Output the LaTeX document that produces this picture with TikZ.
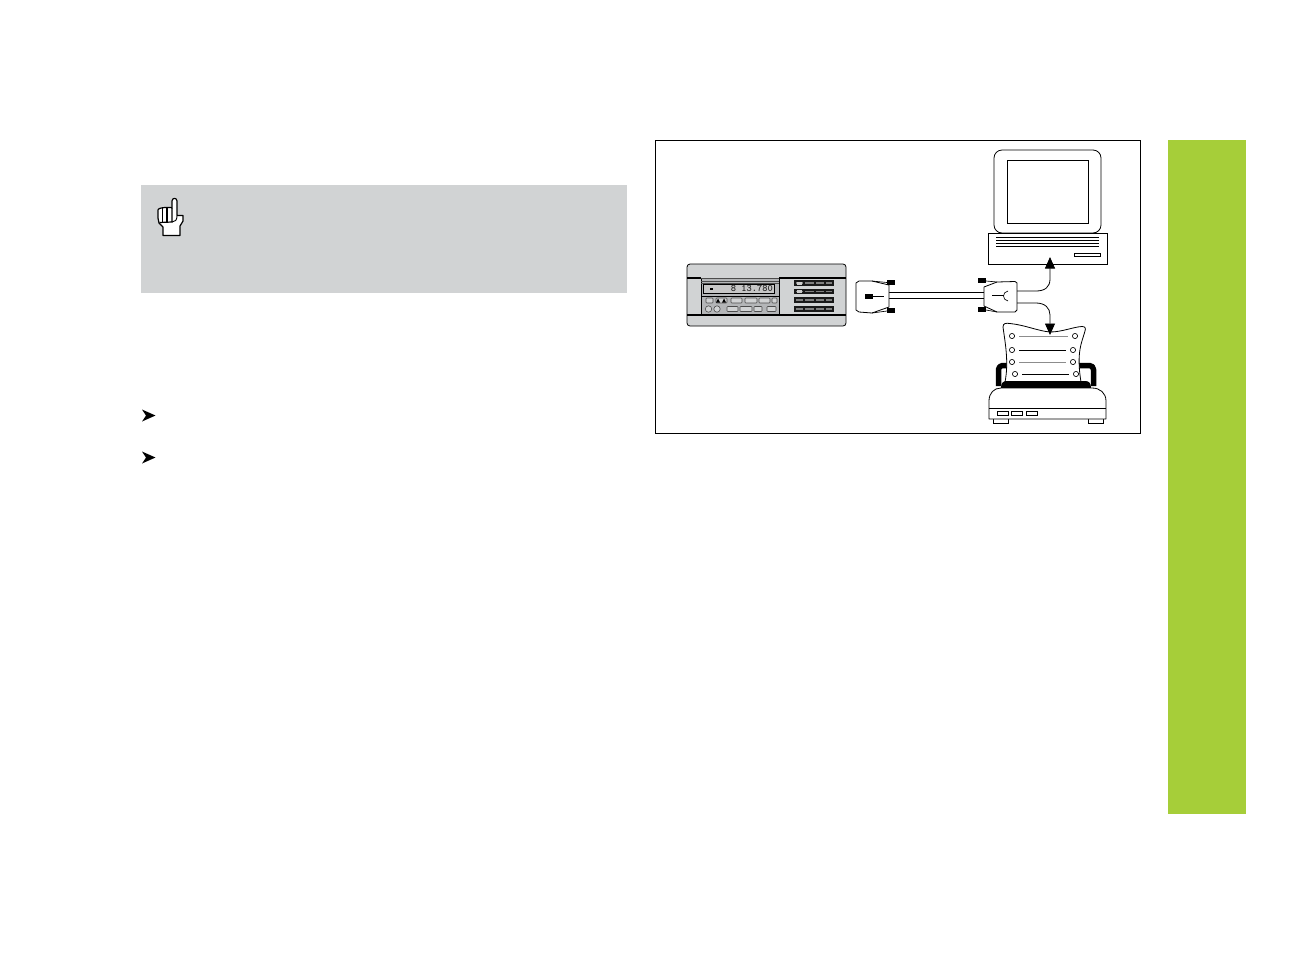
\documentclass[tikz,border=0pt]{standalone}
\usepackage{xcolor}
\usepackage{tikz}
\usetikzlibrary{arrows.meta}
\definecolor{notegray}{HTML}{D1D3D4}
\definecolor{tabgreen}{HTML}{A6CE39}
\definecolor{padtone}{HTML}{B4B6B8}
\tikzset{
  outline/.style={draw=black, line width=0.8pt},
  thinline/.style={draw=black, line width=0.65pt},
  softline/.style={draw=black!45, line width=1pt},
  lug/.style={fill=black, draw=none},
  softkey/.style={draw=black!70, fill=notegray, line width=0.6pt, rounded corners=0.8pt},
  flow/.style={draw=black, line width=0.8pt, -{Triangle[length=11.5pt,width=10pt]}},
}
\begin{document}
\begin{tikzpicture}[x=1pt, y=-1pt]
\useasboundingbox (0,0) rectangle (1294,954);
\fill[white] (0,0) rectangle (1294,954);
\fill[tabgreen] (1168,140) rectangle (1246,814);
\fill[notegray] (141,185) rectangle (627,293);
\draw[line width=0.6pt] (655.5,140.5) rectangle (1140.5,433.5);
% pointing hand
\draw[line width=1.2pt, fill=white, line join=round]
  (172,208) -- (172,201) .. controls (172,197.5) and (177,197.5) .. (177,201)
  -- (177,215.5) -- (183,215.5) -- (183,221) -- (180,226) -- (180,235.5) -- (163,235.5)
  -- (163,227) -- (159,223) -- (158,218) -- (158,210)
  .. controls (158,207) and (172,207) .. (172,208) -- cycle;
\foreach \x in {162.5,167} \draw[line width=1.2pt] (\x,208) -- (\x,222);
\draw[line width=1.2pt] (172,208) -- (172,222) -- (159.5,222.5);
\draw[line width=0.9pt] (172,222) .. controls (175,222) and (177,220) .. (177,216);
% list marks
\foreach \y in {415.5,457.5}
  \fill (142,\y-6) -- (155.5,\y) -- (142,\y+6) -- (146,\y) -- cycle;
% display unit
\draw[outline, fill=notegray, rounded corners=3pt] (687,264) rectangle (846,326);
\fill[padtone] (701,278) rectangle (779,315);
\draw[black, line width=1.3pt] (687,278) -- (701,278) (779,278) -- (846,278);
\draw[black, line width=1.3pt] (687,315) -- (846,315);
\draw[thinline] (701,278) -- (701,315) (779,278) -- (779,315);
\draw[black!70, line width=0.7pt] (701,278.5) -- (779,278.5) (701,281) -- (779,281) (701,283) -- (779,283);
\draw[thinline, fill=black!22] (703,284) rectangle (774,293);
\fill (710,288) rectangle (713,290);
\node[font=\ttfamily\bfseries\fontsize{10}{10}\selectfont, text=black!85, inner sep=0pt, anchor=east] (readout) at (773,288.5) {8 13.780};
\draw[thinline] (701,296) -- (779,296);
\foreach \xa/\xb in {706/713,716/727,731/742,745/757,759/770,772/777} \draw[softkey] (\xa,298) rectangle (\xb,303);
\foreach \xa/\xb in {727/738,740/752,754/762,767/776} \draw[softkey] (\xa,306.5) rectangle (\xb,311.5);
\foreach \x in {708.5,717} \draw[softkey] (\x,309) circle (3.2);
\fill (718,298.5) -- (720,302.5) -- (716,302.5) -- cycle (724,298.5) -- (726,302.5) -- (722,302.5) -- cycle;
\foreach \y in {280,288.5,297,306} {
  \fill[black!90] (794,\y) rectangle (834,\y+5.8);
  \foreach \xa/\xb in {796/803,805/814,816/824,826/832} \fill[black!50] (\xa,\y+2) rectangle (\xb,\y+3.8);
}
\fill[white!80!black] (797,281.5) rectangle (802,284.5);
\fill[white!80!black] (797,290) rectangle (802,293);
% cable and plugs
\coordinate (plugleft) at (889,295);
\coordinate (plugright) at (984,295);
\draw[outline] ([yshift=-3pt]plugleft) -- ([yshift=-3pt]plugright);
\draw[outline] ([yshift=3pt]plugleft) -- ([yshift=3pt]plugright);
\draw[outline, fill=white, line join=round]
  (856,283) -- (859,281) -- (872,281) -- (889,285) -- (889,307) -- (872,313) -- (859,312) -- (856,310) -- cycle;
\draw[thinline] (872,281) -- (887,282.5) (872,313) -- (887,311);
\fill[lug] (887,280) rectangle (895,284.5);
\fill[lug] (887,308) rectangle (895,313);
\fill[lug] (865,293.5) rectangle (873,298.5);
\draw[thinline] (873,296) -- (884,296);
\draw[outline, fill=white, line join=round]
  (984,287) -- (997,282) -- (1015,281.5) -- (1017,283) -- (1017,310) -- (1015,312) -- (997,312) -- (984,306) -- cycle;
\draw[thinline] (986,281) -- (997,282) (986,310) -- (997,312);
\fill[lug] (978,278) rectangle (986,283);
\fill[lug] (978,307) rectangle (986,312);
\draw[thinline] (992,295.5) -- (1003,295.5) (1008,291) .. controls (1002,292) and (1002,300) .. (1008,301);
% computer
\draw[outline, fill=white, rounded corners=8pt] (994,150) rectangle (1101,233);
\draw[outline] (1007.5,160) rectangle (1088,223);
\node[inner sep=0pt, minimum width=119.5pt, minimum height=31pt, draw=black, line width=0.8pt, fill=white] (base) at (1047.75,248.5) {};
\foreach \y in {237,240,243,246.5} \draw[thinline] (996,\y) -- (1099,\y);
\draw[thinline] (1074,253.5) rectangle (1100,256.5);
% printer
\draw[black, line width=5.5pt, line join=round, rounded corners=4pt] (998.5,386) -- (998.5,365.5) -- (1012,365.5);
\draw[black, line width=5.5pt, line join=round, rounded corners=4pt] (1075,365.5) -- (1093.5,365.5) -- (1093.5,386);
\draw[outline, fill=white]
  (1003,327) .. controls (1003,323) and (1006,323) .. (1010,323.5)
  .. controls (1025,325) and (1038,331) .. (1050,332)
  .. controls (1062,332) and (1073,327) .. (1082,326.5)
  .. controls (1085,326.5) and (1086,328) .. (1085,331)
  .. controls (1082,342) and (1076,352) .. (1081,382)
  -- (1005,382) .. controls (1009,362) and (1005,342) .. (1003,327) -- cycle;
\foreach \ya/\xa/\xb/\tone in {336/1012/1075/softline,350/1012/1073/thinline,362/1012/1073/softline,374/1015/1076/thinline} {
  \draw[thinline] (\xa,\ya) circle (2.6);
  \draw[thinline] (\xb,\ya) circle (2.6);
  \draw[\tone] (\xa+7,\ya) -- (\xb-7,\ya);
}
\fill (1001,388) .. controls (1001,383) and (1003,381) .. (1007,381) -- (1085,381)
  .. controls (1089,381) and (1091,383) .. (1091,388) -- cycle;
\draw[thinline] (993,418) rectangle (1008,423.5);
\draw[thinline] (1088,418) rectangle (1103,423.5);
\draw[outline, fill=white, line join=round]
  (989,419) -- (989,401) .. controls (989,393) and (994,388) .. (1001,388)
  -- (1092,388) .. controls (1100,388) and (1106,393) .. (1106,401) -- (1106,419) -- cycle;
\draw[thinline] (989,408) -- (1106,408);
\foreach \xa/\xb in {997/1008,1011/1022,1026/1037} \draw[thinline] (\xa,411) rectangle (\xb,415);
% signal arrows
\coordinate (pcport) at (1050,257);
\coordinate (printport) at (1050,335);
\draw[flow] (1017,291) -- (1036,291) .. controls (1045,291) and (1050,287) .. (1050,279) -- (pcport);
\draw[flow] (1017,303) -- (1036,303) .. controls (1045,303) and (1050,308) .. (1050,315) -- (printport);
\end{tikzpicture}
\end{document}
